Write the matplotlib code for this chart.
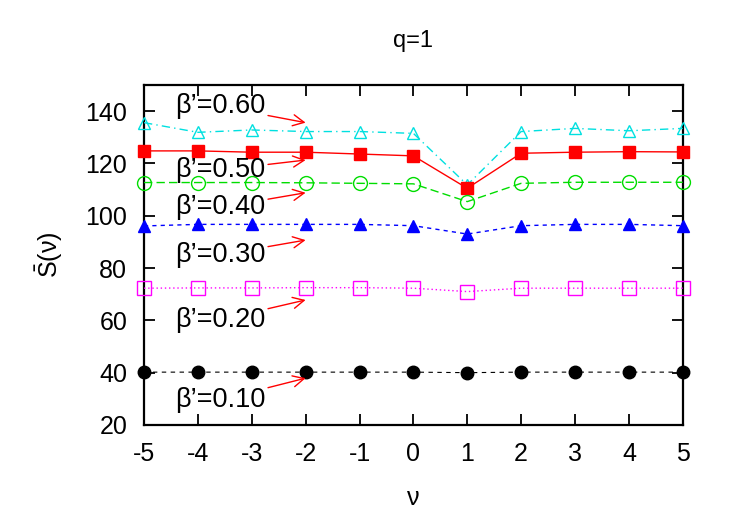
import numpy as np
import matplotlib
matplotlib.use("Agg")
import matplotlib.pyplot as plt

plt.rcParams['font.family'] = ['Liberation Sans', 'DejaVu Sans']
plt.rcParams['axes.unicode_minus'] = False
plt.rcParams['mathtext.fontset'] = 'custom'
plt.rcParams['mathtext.rm'] = 'Liberation Sans'
plt.rcParams['mathtext.it'] = 'Liberation Sans:italic'

nu = [-5, -4, -3, -2, -1, 0, 1, 2, 3, 4, 5]

# S-bar(nu) for each beta'
s_060 = [135.6, 131.9, 132.8, 132.2, 132.2, 131.5, 111.8, 132.2, 133.4, 132.5, 133.4]
s_050 = [124.8, 124.8, 124.3, 124.3, 123.6, 122.9, 110.5, 123.9, 124.3, 124.5, 124.4]
s_040 = [112.7, 112.7, 112.7, 112.6, 112.4, 112.2, 105.4, 112.4, 112.8, 112.8, 112.8]
s_030 = [96.1, 96.7, 96.7, 96.7, 96.7, 96.2, 93.0, 96.2, 96.7, 96.7, 96.2]
s_020 = [72.3, 72.4, 72.4, 72.5, 72.5, 72.3, 71.0, 72.3, 72.3, 72.3, 72.3]
s_010 = [40.2, 40.2, 40.2, 40.2, 40.2, 40.2, 40.0, 40.2, 40.2, 40.2, 40.2]

labels = ["β’=0.60", "β’=0.50", "β’=0.40", "β’=0.30", "β’=0.20", "β’=0.10"]
# label text position (x, y) and arrow tip (x, y) in data coords
label_pos = [(-2.75, 141.8), (-2.75, 117.5), (-2.75, 103.2),
             (-2.75, 85.0), (-2.75, 60.2), (-2.75, 29.6)]
arrow_tip = [(-2.0, 135.6), (-2.0, 121.3), (-2.0, 108.8),
             (-2.0, 90.7), (-2.0, 67.8), (-2.0, 37.9)]

fig = plt.figure(figsize=(7.31, 5.12), dpi=100)
ax = fig.add_axes([0.197, 0.170, 0.737, 0.664])

ax.plot(nu, s_060, color='#00e0e0', ls=(0, (6, 3, 1, 3)), lw=1,
        marker='^', ms=9, mfc='none', mew=1, clip_on=False, zorder=3)
ax.plot(nu, s_050, color='red', ls='-', lw=1,
        marker='s', ms=9, clip_on=False, zorder=3)
ax.plot(nu, s_040, color='#00dd00', ls=(0, (6, 3)), lw=1,
        marker='o', ms=10, mfc='none', mew=1, clip_on=False, zorder=3)
ax.plot(nu, s_030, color='blue', ls=(0, (3, 3)), lw=1,
        marker='^', ms=9, clip_on=False, zorder=3)
ax.plot(nu, s_020, color='magenta', ls=(0, (1, 2)), lw=1,
        marker='s', ms=10, mfc='none', mew=1, clip_on=False, zorder=3)
ax.plot(nu, s_010, color='black', ls=(0, (4, 4)), lw=0.8,
        marker='o', ms=9, clip_on=False, zorder=3)

for lab, (tx, ty), (ax_, ay) in zip(labels, label_pos, arrow_tip):
    ax.annotate(lab, xy=(ax_, ay), xytext=(tx, ty), fontsize=19.5,
                ha='right', va='center',
                arrowprops=dict(arrowstyle='->', color='red', lw=1,
                                shrinkA=0, shrinkB=0, mutation_scale=20))

ax.set_xlim(-5, 5)
ax.set_ylim(20, 150)
ax.set_xticks(nu)
ax.set_yticks([20, 40, 60, 80, 100, 120, 140])
ax.tick_params(direction='in', top=True, right=True, length=8, width=1.3,
               labelsize=18, pad=12)
for sp in ax.spines.values():
    sp.set_linewidth(1.6)

ax.set_xlabel("ν", fontsize=18, labelpad=15)
ax.set_ylabel(r"$\bar{\mathrm{S}}$(ν)", fontsize=18, labelpad=15)
ax.set_title("q=1", fontsize=17, pad=27)

fig.savefig("out.png", dpi=100)
